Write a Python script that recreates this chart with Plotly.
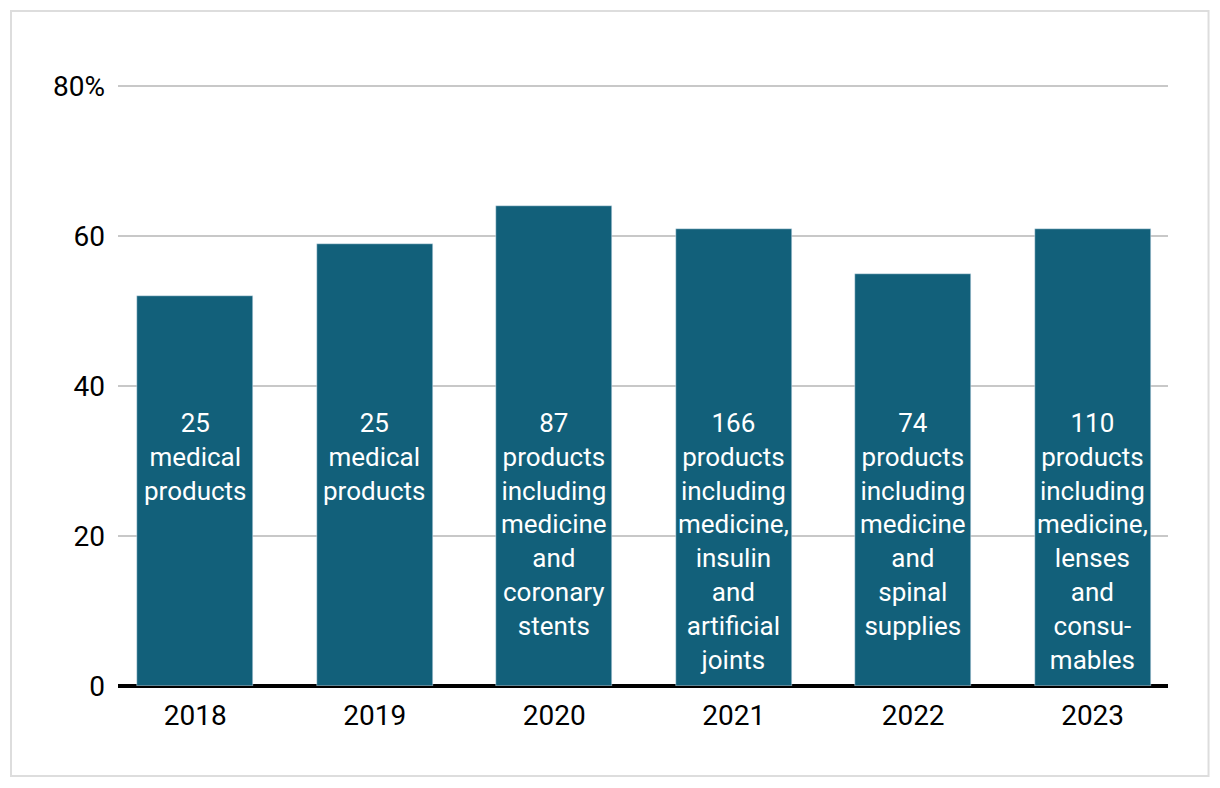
import plotly.graph_objects as go

years = ["2018", "2019", "2020", "2021", "2022", "2023"]
shares = [52, 59, 64, 61, 55, 61]
bar_labels = [
    "25<br>medical<br>products",
    "25<br>medical<br>products",
    "87<br>products<br>including<br>medicine<br>and<br>coronary<br>stents",
    "166<br>products<br>including<br>medicine,<br>insulin<br>and<br>artificial<br>joints",
    "74<br>products<br>including<br>medicine<br>and<br>spinal<br>supplies",
    "110<br>products<br>including<br>medicine,<br>lenses<br>and<br>consu-<br>mables",
]
y_tickvals = [0, 20, 40, 60, 80]
y_ticktext = ["0", "20", "40", "60", "80%"]

FONT = "Roboto"
fig = go.Figure()
fig.add_trace(go.Bar(
    x=list(range(len(years))), y=shares, marker_color="#12607A",
    width=0.646, hoverinfo="skip", showlegend=False,
))
for i, lab in enumerate(bar_labels):
    fig.add_annotation(x=i, y=37.35, xref="x", yref="y", text=lab, showarrow=False,
                       yanchor="top", xanchor="center", align="center",
                       font=dict(family=FONT, size=26, color="white"))

fig.add_shape(type="rect", xref="paper", yref="paper",
              x0=-0.1019, x1=1.0386, y0=-0.1483, y1=1.112,
              line=dict(color="#DDDDDD", width=2), layer="below")

fig.update_layout(
    width=1212, height=780,
    margin=dict(l=110, r=52, t=71, b=102),
    plot_bgcolor="white", paper_bgcolor="white",
    font=dict(family=FONT, size=28, color="black"),
    xaxis=dict(range=[-0.43, 5.42], tickmode="array", tickvals=list(range(len(years))),
               ticktext=years, showgrid=False, zeroline=False, showline=False,
               ticks="", ticklabelstandoff=10, tickfont=dict(size=28)),
    yaxis=dict(range=[0, 81], tickmode="array", tickvals=y_tickvals, ticktext=y_ticktext,
               showgrid=True, gridcolor="#C8C8C8", gridwidth=1.5, zeroline=True,
               zerolinecolor="black", zerolinewidth=3.5, ticks="", ticklabelstandoff=12,
               tickfont=dict(size=28)),
    bargap=0,
)
fig.write_html("out.html")
